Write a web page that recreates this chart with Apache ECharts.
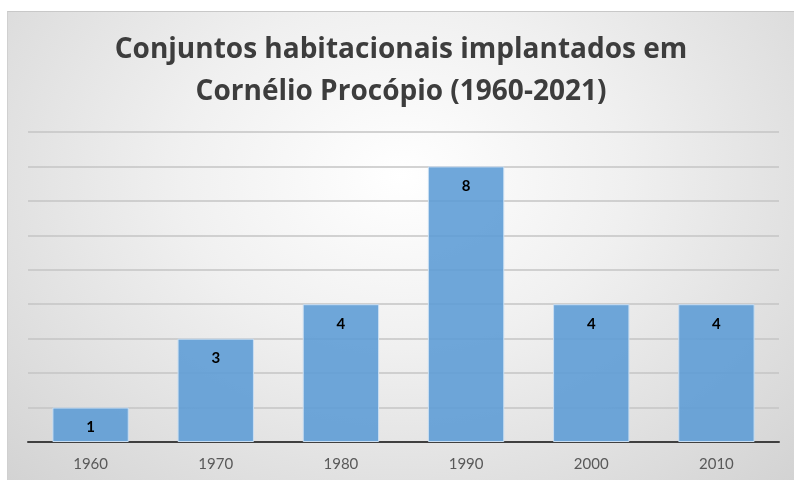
<!DOCTYPE html>
<html>
<head>
<meta charset="utf-8">
<script src="https://cdn.jsdelivr.net/npm/echarts@6/dist/echarts.min.js"></script>
<style>
  html, body { margin: 0; padding: 0; background: #fff; }
  #chart {
    position: absolute;
    left: 7px;
    top: 11px;
    width: 787px;
    height: 469px;
    border-top: 1px solid #c8c8c8;
    border-left: 1px solid #d0d0d0;
    box-sizing: border-box;
    background: radial-gradient(ellipse at 50% 35%, #ffffff 0%, #f0f0f0 40%, #d3d3d3 100%);
  }
</style>
</head>
<body>
<div id="chart"></div>
<script>
// dados
var decadas = ["1960", "1970", "1980", "1990", "2000", "2010"];
var conjuntos = [1, 3, 4, 8, 4, 4];

var myChart = echarts.init(document.getElementById("chart"));
var option = {
  title: {
    text: "Conjuntos habitacionais implantados em\nCornélio Procópio (1960-2021)",
    left: "center",
    top: 12,
    textStyle: {
      fontFamily: "Open Sans",
      fontWeight: "bold",
      fontSize: 28,
      lineHeight: 42,
      color: "#3d3d3d",
    },
  },
  grid: {
    left: 20,
    right: 15,
    top: 120,
    bottom: 38,
  },
  xAxis: {
    type: "category",
    data: decadas,
    axisTick: { show: false },
    axisLine: { lineStyle: { color: "#404040", width: 2 } },
    axisLabel: {
      color: "#595959",
      fontSize: 15,
      fontFamily: "Lato",
      margin: 15,
    },
  },
  yAxis: {
    type: "value",
    min: 0,
    max: 9,
    interval: 1,
    axisLabel: { show: false },
    axisLine: { show: false },
    splitLine: { lineStyle: { color: "#c4c4c4", width: 1.5 } },
  },
  series: [
    {
      type: "bar",
      data: conjuntos,
      barWidth: "61%",
      itemStyle: {
        color: "rgba(91,155,213,0.88)",
        borderColor: "#c9def2",
        borderWidth: 1,
      },
      label: {
        show: true,
        position: "insideTop",
        distance: 12,
        color: "#000",
        fontWeight: "bold",
        fontSize: 15,
        fontFamily: "Lato",
      },
    },
  ],
};
myChart.setOption(option);
</script>
</body>
</html>
